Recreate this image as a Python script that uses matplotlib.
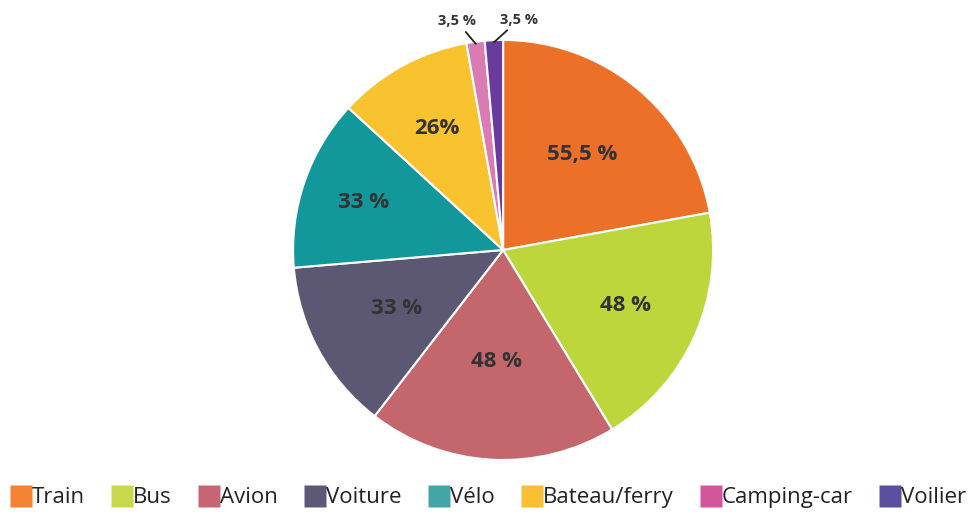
import matplotlib.pyplot as plt
import numpy as np
from matplotlib.lines import Line2D

plt.rcParams['font.family'] = ['Open Sans', 'DejaVu Sans']

# data
categories = ['Train', 'Bus', 'Avion', 'Voiture', 'Vélo', 'Bateau/ferry', 'Camping-car', 'Voilier']
values = [55.5, 48, 48, 33, 33, 26, 3.5, 3.5]
labels = ['55,5 %', '48 %', '48 %', '33 %', '33 %', '26%', '3,5 %', '3,5 %']
pie_colors = ['#EC7028', '#BCD63C', '#C4676D', '#5C5874', '#12989A', '#F9C22F', '#DB7BB4', '#6A3A9D']
legend_colors = ['#F58233', '#C8D84A', '#C86575', '#5E5878', '#44A5A8', '#FBBF36', '#D2549A', '#5B50A0']

fig = plt.figure(figsize=(9.75, 5.13), dpi=100)
ax = fig.add_axes([0.516 - 0.2154, 0.5127 - 0.4094, 0.4308, 0.8188])

wedges, _ = ax.pie(values, colors=pie_colors, startangle=90, counterclock=False,
                   wedgeprops=dict(edgecolor='white', linewidth=1.5), radius=1)
ax.set_xlim(-1, 1)
ax.set_ylim(-1, 1)
ax.set_aspect('equal')
ax.axis('off')

# label placement (distance from centre, as fraction of radius)
label_dist = [0.59, 0.64, 0.53, 0.58, 0.7, 0.66]
offsets = {6: (-0.09, 0.065), 7: (0.12, 0.065)}
for i, w in enumerate(wedges):
    ang = np.deg2rad((w.theta1 + w.theta2) / 2)
    x, y = np.cos(ang), np.sin(ang)
    if i in offsets:
        dx, dy = offsets[i]
        ax.annotate(labels[i], xy=(x * 0.99, y * 0.99), xytext=(x + dx, y + dy),
                    ha='center', va='bottom', fontsize=10.5, fontweight='bold', color='#333333',
                    arrowprops=dict(arrowstyle='-', color='#222222', lw=1.3, shrinkA=1, shrinkB=0))
    else:
        d = label_dist[i]
        ax.text(x * d, y * d, labels[i], ha='center', va='center', fontsize=16,
                fontweight='bold', color='#333333')

handles = [Line2D([0], [0], marker='s', color='none', markerfacecolor=c, markeredgecolor='none',
                  markersize=15.5) for c in legend_colors]
fig.legend(handles, categories, loc='lower center', bbox_to_anchor=(0.502, -0.03), ncol=8,
           frameon=False, fontsize=16, handlelength=0.75, handletextpad=0.12, columnspacing=1.3,
           labelcolor='#222222')

plt.savefig('out.png', dpi=100)
